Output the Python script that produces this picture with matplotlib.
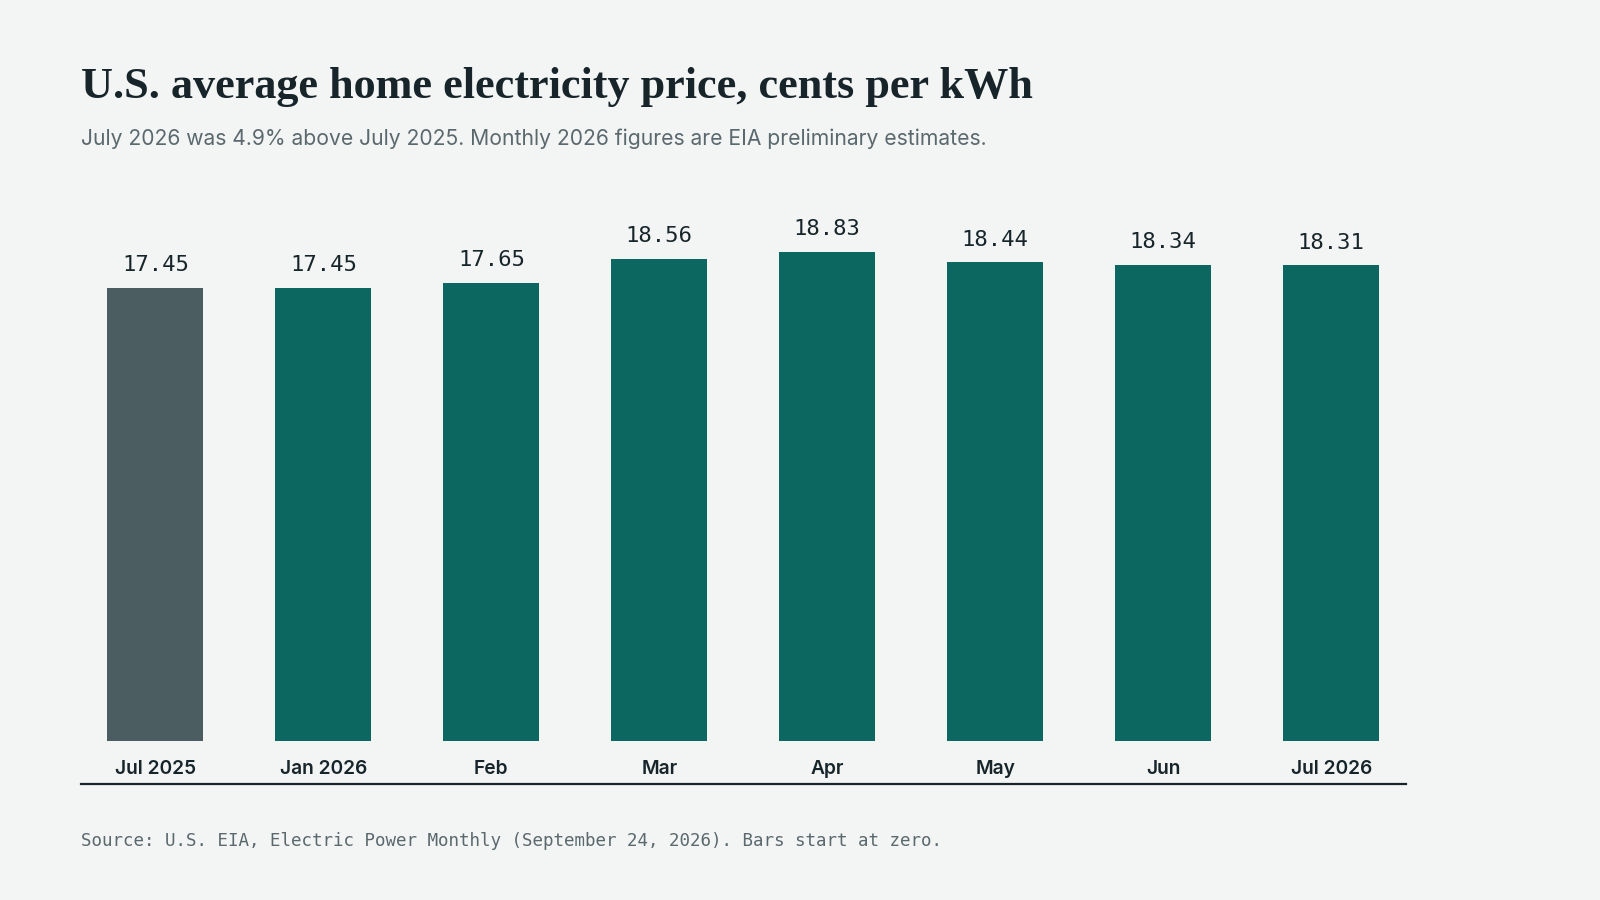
import matplotlib
matplotlib.use("Agg")
import matplotlib.pyplot as plt

categories = ["Jul 2025", "Jan 2026", "Feb", "Mar", "Apr", "May", "Jun", "Jul 2026"]
values = [17.45, 17.45, 17.65, 18.56, 18.83, 18.44, 18.34, 18.31]
value_labels = ["17.45", "17.45", "17.65", "18.56", "18.83", "18.44", "18.34", "18.31"]

BG = "#f3f5f4"
TEAL = "#0c6761"
GRAY = "#4c5d61"
INK = "#17252a"
SUB = "#5b696e"

fig = plt.figure(figsize=(16, 9), dpi=100, facecolor=BG)

# axes: bottom edge at the baseline rule (y=784 px from top), zero at 741 px
px_per_unit = 25.97
ax_bottom_px = 784
zero_px = 741
top_px = 200
ymin = -(ax_bottom_px - zero_px) / px_per_unit
ymax = (zero_px - top_px) / px_per_unit
ax = fig.add_axes([80.6 / 1600, 1 - ax_bottom_px / 900, (1406 - 80.6) / 1600,
                   (ax_bottom_px - top_px) / 900])
ax.set_facecolor(BG)

colors = [GRAY] + [TEAL] * (len(values) - 1)
x = list(range(len(values)))
bars = ax.bar(x, values, width=0.57, color=colors, zorder=2)

for xi, v, lab in zip(x, values, value_labels):
    ax.annotate(lab, (xi, v), xytext=(0, 9), textcoords="offset points",
                ha="center", va="bottom", fontsize=16,
                family=["DejaVu Sans Mono"], color=INK)

ax.set_xlim(-0.445, len(values) - 1 + 0.445)
ax.set_ylim(ymin, ymax)
ax.set_xticks(x)
ax.set_xticklabels(categories, fontsize=13.8, fontweight="semibold",
                   family=["Inter", "DejaVu Sans"], color=INK)
ax.tick_params(axis="x", length=0, pad=-17.5)
ax.set_yticks([])
for s in ["top", "left", "right"]:
    ax.spines[s].set_visible(False)
ax.spines["bottom"].set_color(INK)
ax.spines["bottom"].set_linewidth(1.6)

fig.text(80.6 / 1600, 1 - 98 / 900, "U.S. average home electricity price, cents per kWh",
         fontsize=31.9, fontweight="bold", family=["Liberation Serif", "DejaVu Serif"],
         color=INK, va="baseline", ha="left")
fig.text(80.6 / 1600, 1 - 139 / 900,
         "July 2026 was 4.9% above July 2025. Monthly 2026 figures are EIA preliminary estimates.",
         fontsize=15.2, family=["Inter", "DejaVu Sans"], color=SUB, va="center", ha="left")
fig.text(80.6 / 1600, 1 - 841 / 900,
         "Source: U.S. EIA, Electric Power Monthly (September 24, 2026). Bars start at zero.",
         fontsize=12.6, family=["DejaVu Sans Mono"], color=SUB, va="center", ha="left")

fig.savefig("out.png", dpi=100, facecolor=BG)
